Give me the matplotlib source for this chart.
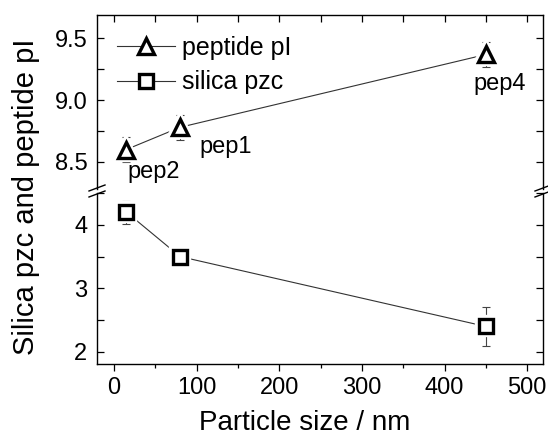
import matplotlib
matplotlib.use("Agg")
import matplotlib.pyplot as plt
from matplotlib.lines import Line2D
from matplotlib.ticker import MultipleLocator

plt.rcParams['font.family'] = ['Liberation Sans', 'DejaVu Sans']

# data
size_nm = [15, 80, 450]
peptide_pi = [8.60, 8.78, 9.37]
peptide_err = [0.10, 0.10, 0.10]
silica_pzc = [4.20, 3.50, 2.40]
silica_err = [0.18, 0.0, 0.30]
pep_names = ['pep2', 'pep1', 'pep4']
pep_label_xy = [(16, 8.42), (103, 8.62), (467, 9.13)]
pep_label_ha = ['left', 'left', 'center']

W, H = 548, 442
fig = plt.figure(figsize=(W / 100, H / 100), dpi=100)

def fx(px):
    return px / W

def fy(py):
    return 1 - py / H

left, right = 97, 543
ax_top = fig.add_axes([fx(left), fy(189), fx(right - left), fy(15) - fy(189)])
ax_bot = fig.add_axes([fx(left), fy(364), fx(right - left), fy(193) - fy(364)])

line_kw = dict(color='#333333', lw=0.8)
err_kw = dict(ecolor='#444444', elinewidth=0.8, capsize=3, capthick=0.8)

# peptide pI (top panel)
ax_top.plot(size_nm, peptide_pi, zorder=1, **line_kw)
ax_top.errorbar(size_nm, peptide_pi, yerr=peptide_err, fmt='none', zorder=2, **err_kw)
ax_top.plot(size_nm, peptide_pi, ls='none', marker='^', ms=12, mfc='white', mec='white', mew=6, zorder=3)
ax_top.plot(size_nm, peptide_pi, ls='none', marker='^', ms=12, mfc='white', mec='black', mew=2.4, zorder=4)

# silica pzc (bottom panel)
ax_bot.plot(size_nm, silica_pzc, zorder=1, **line_kw)
ax_bot.errorbar(size_nm, silica_pzc, yerr=silica_err, fmt='none', zorder=2, **err_kw)
ax_bot.plot(size_nm, silica_pzc, ls='none', marker='s', ms=10, mfc='white', mec='white', mew=6, zorder=3)
ax_bot.plot(size_nm, silica_pzc, ls='none', marker='s', ms=10, mfc='white', mec='black', mew=2.4, zorder=4)

for name, (tx, ty), ha in zip(pep_names, pep_label_xy, pep_label_ha):
    ax_top.text(tx, ty, name, fontsize=17, va='center', ha=ha)

for ax in (ax_top, ax_bot):
    ax.set_xlim(-20.5, 519)
    ax.xaxis.set_major_locator(MultipleLocator(100))
    ax.xaxis.set_minor_locator(MultipleLocator(50))
    for sp in ax.spines.values():
        sp.set_linewidth(1.0)
    ax.tick_params(which='both', labelsize=17, width=0.9)
    ax.tick_params(axis='y', which='both', pad=7)

ax_top.set_ylim(8.28, 9.69)
ax_top.yaxis.set_major_locator(MultipleLocator(0.5))
ax_top.yaxis.set_minor_locator(MultipleLocator(0.25))
ax_top.yaxis.set_major_formatter(plt.FormatStrFormatter('%.1f'))
ax_top.spines['bottom'].set_visible(False)
ax_top.tick_params(axis='x', which='both', bottom=False, labelbottom=False,
                   top=True, direction='in', length=5)
ax_top.tick_params(axis='y', which='both', left=True, right=True, direction='in', length=5)

ax_bot.set_ylim(1.81, 4.50)
ax_bot.yaxis.set_major_locator(MultipleLocator(1))
ax_bot.yaxis.set_minor_locator(MultipleLocator(0.5))
ax_bot.spines['top'].set_visible(False)
ax_bot.tick_params(axis='x', which='both', top=False, direction='out', pad=4.5)
ax_bot.tick_params(axis='x', which='major', length=5)
ax_bot.tick_params(axis='x', which='minor', length=3)
ax_bot.tick_params(axis='y', which='both', left=True, right=True, direction='in', length=5)

# break marks on both side spines
for xs in (left, right):
    for dy in (-3, 3):
        x0, x1 = xs - 8, xs + 8
        y0, y1 = 191 + dy + 3, 191 + dy - 3
        fig.add_artist(Line2D([fx(x0), fx(x1)], [fy(y0), fy(y1)], color='black', lw=1.0))

handles = [
    Line2D([], [], color='#333333', lw=0.8, marker='^', ms=12, mfc='white', mec='black', mew=2.4),
    Line2D([], [], color='#333333', lw=0.8, marker='s', ms=10, mfc='white', mec='black', mew=2.4),
]
ax_top.legend(handles, ['peptide pI', 'silica pzc'], loc='upper left', frameon=False,
              fontsize=18, handlelength=2.3, handletextpad=0.32, labelspacing=0.42,
              borderaxespad=0.0, borderpad=0.0,
              bbox_to_anchor=((117 - left) / (right - left), (189 - 36) / (189 - 15)))

fig.text(fx(26), fy(197), 'Silica pzc and peptide pI', rotation=90, fontsize=21,
         ha='center', va='center')
fig.text(fx(305), fy(423), 'Particle size / nm', fontsize=20, ha='center', va='center')

fig.savefig('out.png', dpi=100)
